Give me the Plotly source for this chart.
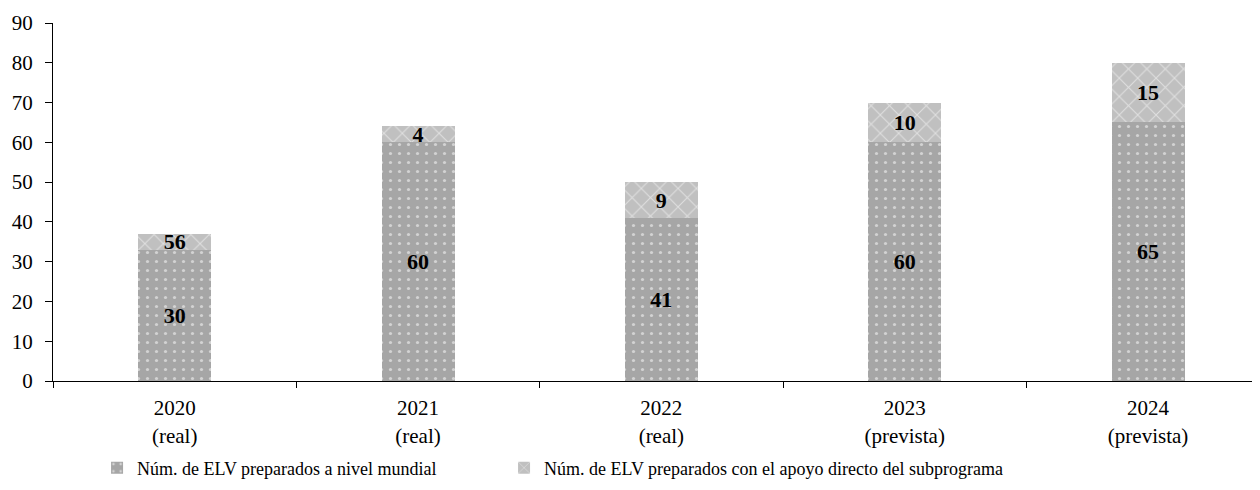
import plotly.graph_objects as go

categories = ["2020<br>(real)", "2021<br>(real)", "2022<br>(real)", "2023<br>(prevista)", "2024<br>(prevista)"]
mundial = [33, 60, 41, 60, 65]
subprograma = [4, 4, 9, 10, 15]
mundial_labels = ["30", "60", "41", "60", "65"]
subprograma_labels = ["56", "4", "9", "10", "15"]
series_names = ["Núm. de ELV preparados a nivel mundial",
                "Núm. de ELV preparados con el apoyo directo del subprograma"]
y_ticks = [0, 10, 20, 30, 40, 50, 60, 70, 80, 90]

FONT = "Liberation Serif, Times New Roman, serif"
dark = "#a6a6a6"
light = "#c0c0c0"

fig = go.Figure()
fig.add_trace(go.Bar(
    x=categories, y=mundial, name=series_names[0], legend="legend", showlegend=True,
    text=mundial_labels, textposition="inside", insidetextanchor="middle",
    textangle=0, constraintext="none",
    textfont=dict(family=FONT, size=22, color="black", weight="bold"),
    marker=dict(color=dark, line=dict(width=0),
                pattern=dict(shape=".", fgcolor="white", bgcolor=dark, size=9, solidity=0.1)),
    width=0.3,
))
fig.add_trace(go.Bar(
    x=categories, y=subprograma, name=series_names[1], legend="legend2", showlegend=True,
    text=subprograma_labels, textposition="inside", insidetextanchor="middle",
    textangle=0, constraintext="none",
    textfont=dict(family=FONT, size=22, color="black", weight="bold"),
    marker=dict(color=light, line=dict(width=0),
                pattern=dict(shape="x", fgcolor="white", bgcolor=light, size=13, solidity=0.15)),
    width=0.3,
))

legend_style = dict(orientation="h", yanchor="middle", y=-0.243, xanchor="left",
                    itemwidth=30, bgcolor="rgba(0,0,0,0)",
                    font=dict(family=FONT, size=18, color="black"))

fig.update_layout(
    barmode="stack",
    showlegend=True,
    width=1252, height=482,
    margin=dict(l=45, r=0, t=15, b=109, autoexpand=False),
    paper_bgcolor="white", plot_bgcolor="white",
    font=dict(family=FONT, size=21, color="black"),
    legend=dict(x=0.0365, **legend_style),
    legend2=dict(x=0.3737, **legend_style),
    xaxis=dict(type="category", range=[-0.5, 4.46], showline=True, linecolor="black",
               linewidth=1, ticks="outside", tickson="boundaries", ticklen=6,
               tickcolor="black", showgrid=False, automargin=False,
               ticklabelstandoff=8, tickfont=dict(family=FONT, size=21)),
    yaxis=dict(range=[0, 90], tickvals=y_ticks, showline=True, linecolor="black",
               linewidth=1, ticks="outside", ticklen=7, tickcolor="black",
               showgrid=False, zeroline=False, automargin=False,
               ticklabelstandoff=8, tickfont=dict(family=FONT, size=21)),
)

fig.write_html("out.html")
